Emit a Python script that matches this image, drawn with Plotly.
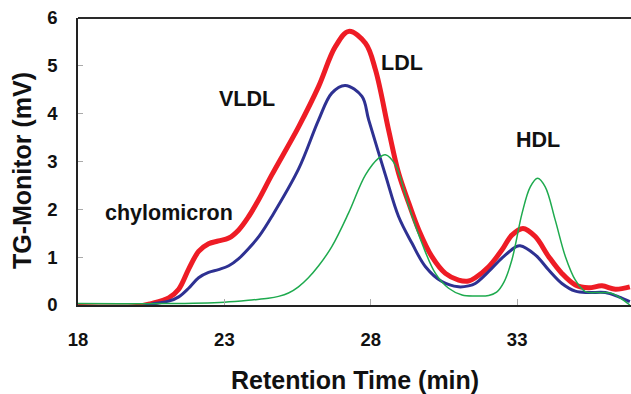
import plotly.graph_objects as go

# Retention time (min) and TG-Monitor signal (mV)
red_time = [18.0, 20.0, 20.5, 21.1, 21.44, 21.78, 22.12, 22.46, 22.8, 23.15, 23.49, 23.83,
            24.17, 24.62, 25.54, 26.22, 26.79, 27.25, 27.82, 28.16, 28.61, 28.95, 29.3,
            29.64, 30.09, 30.55, 31.0, 31.34, 31.57, 32.03, 32.48, 32.82, 33.2, 33.62, 34.08,
            34.53, 34.99, 35.44, 35.9, 36.36, 36.85]
red_signal = [-0.03, -0.03, 0.03, 0.15, 0.33, 0.75, 1.12, 1.28, 1.34, 1.40, 1.57, 1.85,
              2.2, 2.72, 3.73, 4.57, 5.40, 5.72, 5.47, 4.92, 3.66, 2.76, 2.13,
              1.57, 1.01, 0.66, 0.52, 0.50, 0.57, 0.80, 1.15, 1.46, 1.60, 1.43, 1.01,
              0.66, 0.42, 0.36, 0.40, 0.33, 0.38]

blue_time = [18.0, 20.2, 20.6, 21.1, 21.44, 21.78, 22.12, 22.46, 22.8, 23.15, 23.49, 23.83,
             24.2, 24.62, 25.54, 26.22, 26.67, 27.13, 27.7, 27.93, 28.5, 28.95, 29.41, 29.87,
             30.43, 31.0, 31.34, 31.57, 32.03, 32.48, 32.94, 33.1, 33.62, 34.08, 34.53, 34.99,
             35.44, 36.01, 36.47, 36.85]
blue_signal = [-0.03, -0.03, 0.03, 0.08, 0.17, 0.35, 0.57, 0.68, 0.74, 0.82, 0.97, 1.18,
               1.45, 1.85, 2.85, 3.87, 4.43, 4.59, 4.36, 3.87, 2.72, 1.85, 1.29, 0.80,
               0.49, 0.38, 0.40, 0.45, 0.70, 0.98, 1.21, 1.24, 1.05, 0.73, 0.45, 0.29,
               0.26, 0.26, 0.17, 0.07]

green_time = [18.0, 21.0, 23.0, 24.0, 24.5, 24.85, 25.19, 25.53, 25.87, 26.22, 26.67, 27.24,
              27.82, 28.27, 28.5, 28.84, 29.3, 29.75, 30.21, 30.66, 31.12, 31.57, 32.03, 32.3,
              32.55, 32.82, 33.17, 33.45, 33.7, 33.96, 34.3, 34.65, 34.99, 35.33, 35.79, 36.24,
              36.85]
green_signal = [0.03, 0.03, 0.06, 0.11, 0.14, 0.18, 0.25, 0.38, 0.57, 0.82, 1.22, 1.92,
                2.72, 3.07, 3.14, 2.93, 2.06, 1.29, 0.66, 0.35, 0.21, 0.19, 0.20, 0.27,
                0.48, 0.94, 1.92, 2.47, 2.65, 2.47, 1.78, 1.01, 0.52, 0.28, 0.26, 0.24,
                0.0]

x_ticks = [18, 23, 28, 33]
y_ticks = [0, 1, 2, 3, 4, 5, 6]

labels = ["chylomicron", "VLDL", "LDL", "HDL"]
label_x = [21.1, 23.76, 29.06, 33.70]
label_y = [1.92, 4.31, 5.06, 3.45]

FONT = "Liberation Sans, Arial, sans-serif"

fig = go.Figure()
fig.add_trace(go.Scatter(x=red_time, y=red_signal, mode="lines",
                         line=dict(color="#EE1C25", width=5, shape="spline", smoothing=1.0),
                         showlegend=False))
fig.add_trace(go.Scatter(x=blue_time, y=blue_signal, mode="lines",
                         line=dict(color="#2E3192", width=3, shape="spline", smoothing=1.0),
                         showlegend=False))
fig.add_trace(go.Scatter(x=green_time, y=green_signal, mode="lines",
                         line=dict(color="#1EAA4E", width=1.5, shape="spline", smoothing=1.0),
                         showlegend=False))

for t, lx, ly in zip(labels, label_x, label_y):
    fig.add_annotation(x=lx, y=ly, text=t, showarrow=False,
                       font=dict(family=FONT, size=21.5, color="#111111", weight=700))

# axis titles
fig.add_annotation(xref="paper", yref="paper", x=0.5, y=-0.261, text="Retention Time (min)",
                   showarrow=False, xanchor="center", yanchor="middle",
                   font=dict(family=FONT, size=25, color="#111111", weight=700))
fig.add_annotation(xref="paper", yref="paper", x=-0.1013, y=0.47, text="TG-Monitor (mV)",
                   showarrow=False, xanchor="center", yanchor="middle", textangle=-90,
                   font=dict(family=FONT, size=25, color="#111111", weight=700))

fig.add_shape(type="line", xref="paper", yref="paper", x0=0, x1=1, y0=1, y1=1,
              line=dict(color="#2a2a2a", width=2))

fig.update_layout(
    width=631, height=394,
    margin=dict(l=78, r=0, t=18, b=89, autoexpand=False),
    paper_bgcolor="white", plot_bgcolor="white",
    font=dict(family=FONT, color="#111111"),
    xaxis=dict(range=[18, 36.89], tickvals=x_ticks, ticks="inside", ticklen=6,
               tickcolor="#aaaaaa", tickwidth=1, automargin=False,
               showline=True, linecolor="#222222", linewidth=1.5,
               showgrid=False, zeroline=False,
               tickfont=dict(family=FONT, size=18.5, weight=700, color="#111111"),
               ticklabelstandoff=17),
    yaxis=dict(range=[0, 6], tickvals=y_ticks, ticks="inside", ticklen=5,
               tickcolor="#aaaaaa", tickwidth=1, automargin=False,
               showline=True, linecolor="#222222", linewidth=1.5,
               showgrid=False, zeroline=False,
               tickfont=dict(family=FONT, size=18.5, weight=700, color="#111111"),
               ticklabelstandoff=15),
)

fig.write_html("out.html", config={"displayModeBar": False},
               post_script="document.body.style.margin='0';document.body.style.overflow='hidden';")
